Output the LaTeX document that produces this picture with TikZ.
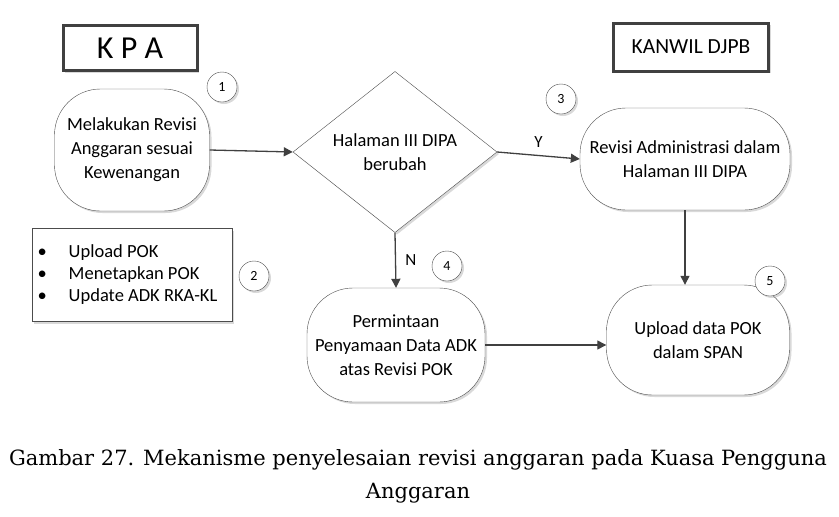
\documentclass[tikz,border=0pt]{standalone}
\usepackage{fontspec}
\setmainfont{Carlito}
\newfontfamily\capfont{DejaVu Serif}
\usetikzlibrary{shapes.geometric,arrows.meta,shadows}
\begin{document}
\begin{tikzpicture}[x=1pt,y=-1pt,
  rnd/.style={draw=black!70,fill=white,rounded corners=46pt,align=center,font=\fontsize{18.5}{24}\selectfont,drop shadow={opacity=0.3,shadow xshift=2pt,shadow yshift=-2pt}},
  num/.style={circle,draw=black!70,fill=white,minimum size=30pt,inner sep=0pt,font=\fontsize{14}{16}\selectfont,drop shadow={opacity=0.3,shadow xshift=2pt,shadow yshift=-2pt}},
  title/.style={draw=black!75,line width=3pt,fill=white,drop shadow={opacity=0.3,shadow xshift=2pt,shadow yshift=-2pt}},
  arr/.style={draw=black!75,line width=1.3pt,-{Triangle[length=9pt,width=9pt]}},
  lbl/.style={font=\fontsize{17}{20}\selectfont}]
\useasboundingbox (0,0) rectangle (839,517);
\node[title,minimum width=134pt,minimum height=45pt,font=\fontsize{32}{34}\selectfont] (kpa) at (130,48) {K P A};
\node[title,minimum width=155pt,minimum height=48pt,font=\fontsize{21.5}{24}\selectfont] (kanwil) at (691,47) {KANWIL DJPB};
\node[rnd,minimum width=155pt,minimum height=122pt] (n1) at (132,150) {Melakukan Revisi\\Anggaran sesuai\\Kewenangan};
\node[diamond,draw=black!70,fill=white,minimum width=204pt,minimum height=153pt,inner sep=0pt,align=center,font=\fontsize{18.5}{24}\selectfont,drop shadow={opacity=0.3,shadow xshift=2pt,shadow yshift=-2pt}] (d) at (395,152) {Halaman III DIPA\\berubah};
\node[rnd,minimum width=210pt,minimum height=102pt] (n3) at (685,159) {Revisi Administrasi dalam\\Halaman III DIPA};
\node[rnd,minimum width=178pt,minimum height=114pt] (n4) at (396,345) {Permintaan\\Penyamaan Data ADK\\atas Revisi POK};
\node[rnd,minimum width=183pt,minimum height=110pt] (n5) at (698,340) {Upload data POK\\dalam SPAN};
\node[draw=black!70,fill=white,minimum width=200pt,minimum height=93pt,drop shadow={opacity=0.3,shadow xshift=2pt,shadow yshift=-2pt}] (lst) at (132,275) {};
\node[anchor=west,align=left,font=\fontsize{18.5}{22}\selectfont] (lt) at (34,275) {\textbullet\hspace{22pt}Upload POK\\\textbullet\hspace{22pt}Menetapkan POK\\\textbullet\hspace{22pt}Update ADK RKA-KL};
\node[num] (c1) at (222,87) {1};
\node[num] (c2) at (254,276) {2};
\node[num] (c3) at (561,99) {3};
\node[num] (c4) at (447,266) {4};
\node[num] (c5) at (770,281) {5};
\draw[arr] (n1.east) -- (d.west);
\draw[arr] (d.east) -- node[lbl,above=4pt] {Y} (n3.west);
\draw[arr] (d.south) -- node[lbl,right=6pt] {N} (n4.north);
\draw[arr] (n3.south) -- (n3.south |- n5.north);
\draw[arr] (n4.east) -- (n4.east -| n5.west);
\node[font=\capfont\fontsize{21}{33}\selectfont,align=center] (cap) at (418,476) {Gambar 27. Mekanisme penyelesaian revisi anggaran pada Kuasa Pengguna\\Anggaran};
\end{tikzpicture}
\end{document}
